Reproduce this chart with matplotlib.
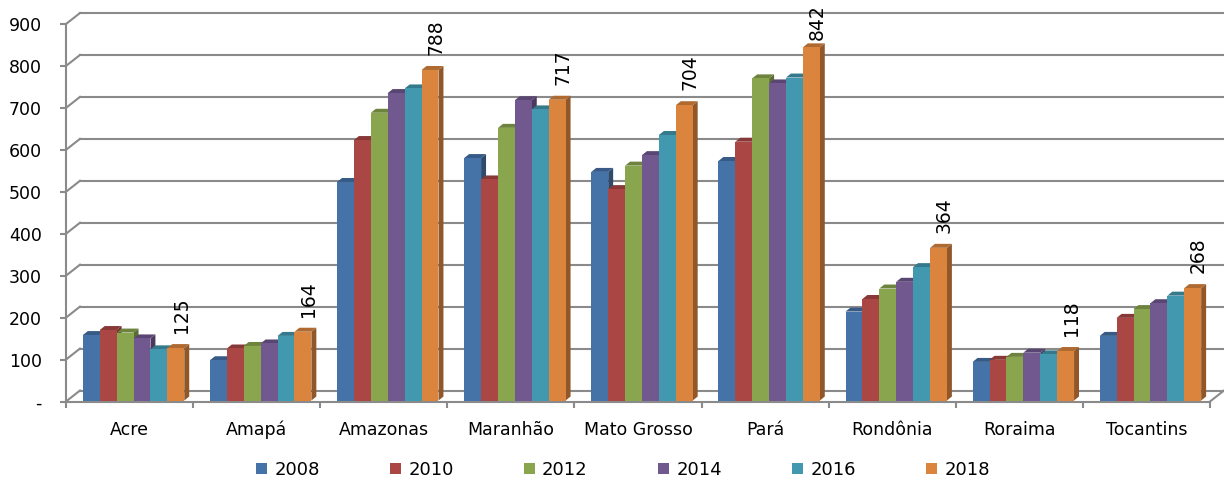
import matplotlib.pyplot as plt
import matplotlib.colors as mcolors
from matplotlib.patches import Polygon, Patch
from matplotlib.transforms import offset_copy

states = ['Acre', 'Amapá', 'Amazonas', 'Maranhão', 'Mato Grosso', 'Pará',
          'Rondônia', 'Roraima', 'Tocantins']
years = ['2008', '2010', '2012', '2014', '2016', '2018']

v2008 = [156, 96, 521, 578, 545, 571, 212, 92, 154]
v2010 = [168, 124, 621, 527, 504, 617, 242, 97, 197]
v2012 = [162, 130, 686, 650, 560, 768, 267, 104, 218]
v2014 = [148, 136, 733, 716, 585, 756, 283, 114, 232]
v2016 = [122, 154, 744, 694, 633, 770, 318, 110, 250]
v2018 = [125, 164, 788, 717, 704, 842, 364, 118, 268]
series = [v2008, v2010, v2012, v2014, v2016, v2018]

colors = ['#4572A7', '#AA4643', '#89A54E', '#71588F', '#4198AF', '#DB843D']
yticks = [0, 100, 200, 300, 400, 500, 600, 700, 800, 900]
ylabels = ['-'] + [str(t) for t in yticks[1:]]


def shade(c, f):
    r, g, b = mcolors.to_rgb(c)
    return (r * f, g * f, b * f)


plt.rcParams['font.family'] = 'DejaVu Sans'
fig = plt.figure(figsize=(12.24, 4.82), dpi=100)
ax = fig.add_axes([66 / 1224, 80.5 / 482, 1144 / 1224, 377.5 / 482])
ax.set_xlim(0, len(states))
ax.set_ylim(0, 900)

grid_c = '#8a8a8a'
# back wall offset (data units) and bar depth
DX, DY = 0.11, 26.2
SDX, SDY = 0.039, 9.5

n = len(states)
for t in yticks:
    ax.plot([DX, n + DX], [t + DY, t + DY], color=grid_c, lw=1.5, zorder=1, clip_on=False)
    ax.plot([0, DX], [t, t + DY], color=grid_c, lw=1.5, zorder=1, clip_on=False)
ax.plot([n, n + DX], [0, DY], color=grid_c, lw=1.5, zorder=1, clip_on=False)

bar_tr = offset_copy(ax.transData, fig=fig, x=4, y=1, units='dots')
fig_h = fig.get_figheight() * fig.dpi
bw = 0.133
z = 3
for i in range(n):
    for j, vals in enumerate(series):
        v = vals[i]
        xl = i + 0.5 - 3 * bw + j * bw
        xr = xl + bw
        side = Polygon([(xr, 0), (xr + SDX, SDY), (xr + SDX, v + SDY), (xr, v)],
                       closed=True, facecolor=shade(colors[j], 0.66), edgecolor='none',
                       transform=bar_tr, zorder=z, clip_on=False)
        top = Polygon([(xl, v), (xr, v), (xr + SDX, v + SDY), (xl + SDX, v + SDY)],
                      closed=True, facecolor=shade(colors[j], 0.8), edgecolor='none',
                      transform=bar_tr, zorder=z, clip_on=False)
        ax.add_patch(side)
        ax.add_patch(top)
        ax.bar(xl, v, width=bw, align='edge', color=colors[j], transform=bar_tr,
               zorder=z + 0.5, clip_on=False)
        z += 1
        if j == len(series) - 1:
            # keep the label inside the figure (Excel squeezes it down)
            room = fig_h - bar_tr.transform((xr, v + SDY))[1] - 9 - 31
            gap = max(1.5, min(8, room * 72 / fig.dpi))
            ax.annotate(str(v), xy=(xr - 0.02, v + SDY), xycoords=bar_tr, xytext=(0, gap),
                        textcoords='offset points', rotation=90, ha='center', va='bottom',
                        fontsize=13.5, color='black', zorder=100)

for s in ['top', 'right']:
    ax.spines[s].set_visible(False)
for s in ['left', 'bottom']:
    ax.spines[s].set_color(grid_c)
    ax.spines[s].set_linewidth(1.5)
    ax.spines[s].set_zorder(2)

ax.set_yticks(yticks)
ax.set_yticklabels(ylabels, fontsize=12.5)
ax.tick_params(axis='y', length=4.5, width=1.5, color=grid_c, pad=13)

ax.set_xticks(range(n + 1))
ax.set_xticklabels([])
ax.set_xticks([i + 0.5 for i in range(n)], minor=True)
ax.set_xticklabels(states, minor=True, fontsize=12.5)
ax.tick_params(axis='x', which='major', length=4, width=1.5, color=grid_c)
ax.tick_params(axis='x', which='minor', length=0, pad=14)

handles = [Patch(facecolor=c, edgecolor='none') for c in colors]
fig.legend(handles, years, loc='center', bbox_to_anchor=(623 / 1224, 12 / 482), ncol=6,
           frameon=False, fontsize=13, handlelength=0.6, handleheight=0.6,
           handletextpad=0.4, columnspacing=3.9)

fig.savefig('out.png', dpi=100)
